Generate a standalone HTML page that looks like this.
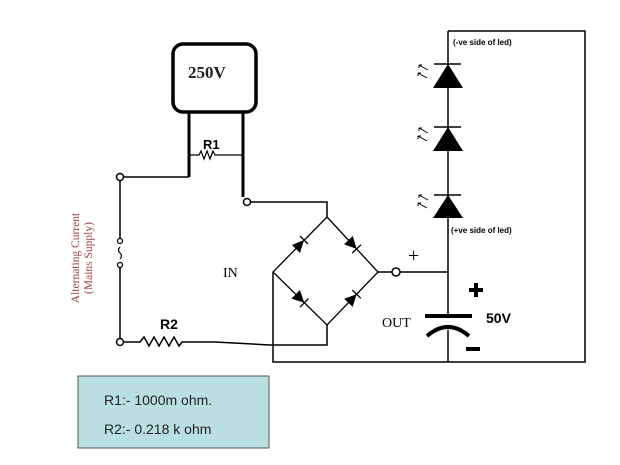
<!DOCTYPE html>
<html><head><style>
html,body{margin:0;padding:0;background:#fff;width:620px;height:465px;overflow:hidden}
svg{display:block}
</style></head><body>
<svg width="620" height="465" viewBox="0 0 620 465" xmlns="http://www.w3.org/2000/svg">
<g fill="none" stroke="#000" stroke-width="1.5">
 <rect x="173" y="44" width="83" height="68" rx="10" stroke-width="3.5"/>
 <path d="M189 112 V177" stroke-width="3"/>
 <path d="M189 177 H124" stroke-width="1.5"/>
 <path d="M243 112 V197" stroke-width="3"/>
 <path d="M189 155 H199 l2 -4 l3 8 l3 -8 l3 8 l3 -8 l2 4 H243" stroke-width="1.2"/>
 <circle cx="120" cy="177" r="3.5" fill="#fff"/>
 <path d="M120 181 V238"/>
 <circle cx="120" cy="241" r="2.5" fill="#fff" stroke-width="1.2"/>
 <path d="M120 247 q-3 3 0 6 q3 3 0 6" stroke-width="1.2"/>
 <circle cx="120" cy="265" r="2.5" fill="#fff" stroke-width="1.2"/>
 <path d="M120 268 V338"/>
 <circle cx="120" cy="342" r="3.5" fill="#fff"/>
 <path d="M124 342 H140 l4 -5 l5 9 l5 -9 l5 9 l5 -9 l5 9 l5 -9 l5 9 l3 -4 H215 L270 345 H327 V325"/>
 <circle cx="247" cy="202" r="3.5" fill="#fff"/>
 <path d="M251 202 H327 V217"/>
 <path d="M327 217 L378 272 L327 325 L273 272 Z" stroke-width="1.3"/>
 <path d="M273 272 V362 H585 V31 H448"/>
 <path d="M378 272 H392"/>
 <circle cx="396" cy="272" r="4" fill="#fff"/>
 <path d="M400 272 H448"/>
 <path d="M448 31 V316 M448 330 V362"/>
 <path d="M434 64 H461 M434 127 H461 M434 195 H461"/>
 <path d="M425 316 H472" stroke-width="4"/>
 <path d="M427 336 Q448 318 469 336" stroke-width="4"/>
</g>
<g fill="#000">
 <polygon points="448,64 433,88 463,88"/>
 <polygon points="448,127 433,151 463,151"/>
 <polygon points="448,195 433,218 463,218"/>
 <polygon points="304,240 300,253 292,245"/>
 <polygon points="356.6,248.9 344,244.2 352.8,236"/>
 <polygon points="304.3,302.7 299.9,290 291.5,298.6"/>
 <polygon points="356.6,294.2 352.7,306.9 344.1,298.7"/>
 <rect x="469" y="288" width="14" height="4"/>
 <rect x="474" y="283" width="4" height="14"/>
 <rect x="466" y="347" width="14" height="4"/>
</g>
<g stroke="#000" stroke-width="1.3" fill="none">
 <path d="M308 244 L300 236"/>
 <path d="M352.2 253 L361 244.8"/>
 <path d="M308.5 298.4 L300.1 307"/>
 <path d="M360.9 298.3 L352.3 290.1"/>
</g>
<g stroke="#000" stroke-width="1" fill="none">
 <path d="M428 70 L419 65 M419 65 v3 M419 65 h3"/>
 <path d="M427 78 L418 73 M418 73 v3 M418 73 h3"/>
 <path d="M428 133 L419 128 M419 128 v3 M419 128 h3"/>
 <path d="M427 141 L418 136 M418 136 v3 M418 136 h3"/>
 <path d="M428 200 L419 195 M419 195 v3 M419 195 h3"/>
 <path d="M427 208 L418 203 M418 203 v3 M418 203 h3"/>
</g>
<g font-family="Liberation Sans, sans-serif" fill="#000">
 <text x="188" y="78" font-family="Liberation Serif, serif" font-size="17" font-weight="bold" fill="#222">250V</text>
 <text x="203" y="149" font-size="13" font-weight="bold">R1</text>
 <text x="160" y="329" font-size="14" font-weight="bold">R2</text>
 <text x="223" y="277" font-family="Liberation Serif, serif" font-size="14">IN</text>
 <text x="382" y="327" font-family="Liberation Serif, serif" font-size="14">OUT</text>
 <text x="408" y="262" font-family="Liberation Serif, serif" font-size="20">+</text>
 <text x="486" y="323" font-size="14" font-weight="bold">50V</text>
 <text x="453" y="45" font-size="8" font-weight="bold">(-ve side of led)</text>
 <text x="451" y="233" font-size="8" font-weight="bold">(+ve side of led)</text>
 <text transform="translate(79,258) rotate(-90)" text-anchor="middle" font-family="Liberation Serif, serif" font-size="11.5" fill="#a04040">Alternating Current</text>
 <text transform="translate(92,258) rotate(-90)" text-anchor="middle" font-family="Liberation Serif, serif" font-size="11.5" fill="#a04040">(Mains Supply)</text>
</g>
<rect x="78" y="376" width="191" height="72" fill="#b9dfe2" stroke="#555" stroke-width="1"/>
<g font-family="Liberation Sans, sans-serif" font-size="14" fill="#222">
 <text x="104" y="405">R1:- 1000m ohm.</text>
 <text x="104" y="434">R2:- 0.218 k ohm</text>
</g>
</svg>
</body></html>
